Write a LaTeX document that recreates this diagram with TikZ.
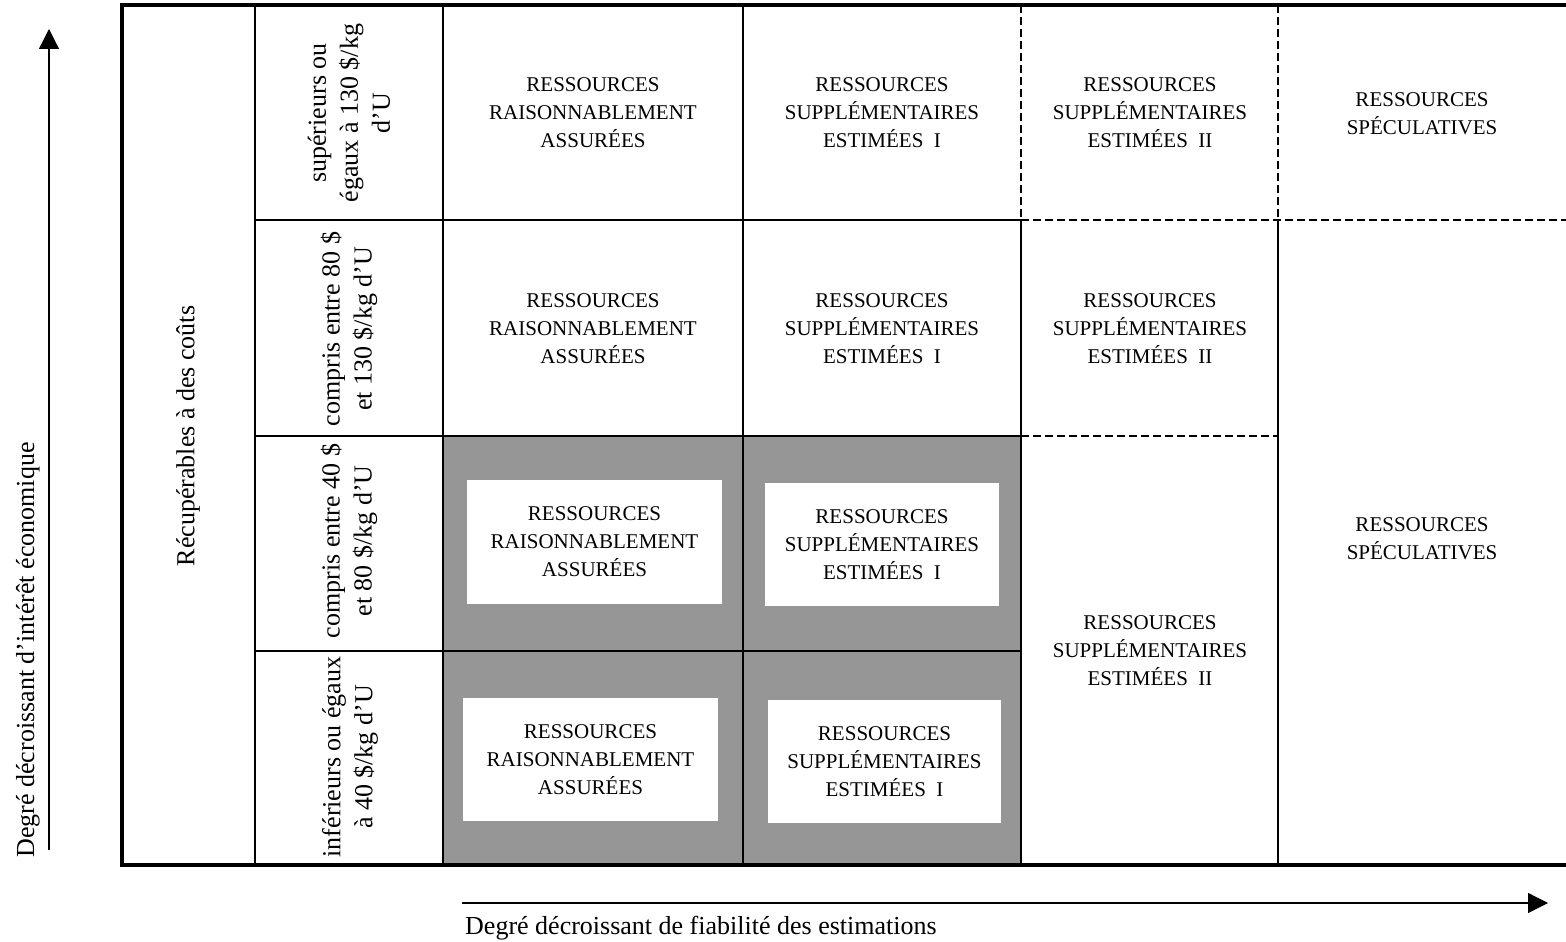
\documentclass[tikz,border=0pt]{standalone}
\usepackage{fontspec}
\setmainfont{Liberation Serif}
\usetikzlibrary{arrows.meta}
\definecolor{cellgrey}{RGB}{150,150,150}
\begin{document}
\begin{tikzpicture}[x=1pt,y=-1pt,
  cell/.style={align=center,font=\fontsize{21}{28}\selectfont,inner sep=0pt},
  hdr/.style={align=center,font=\fontsize{26}{32}\selectfont,inner sep=0pt,rotate=90},
  gridline/.style={line width=2.6pt},
  outerline/.style={line width=3.2pt},
  dashline/.style={line width=2.6pt,dash pattern=on 8pt off 4pt},
  wbox/.style={fill=white,draw=none,align=center,font=\fontsize{21}{28}\selectfont,inner sep=0pt},
  axisarrow/.style={line width=1.3pt,-{Triangle[length=20pt,width=20pt]}},
  lbl/.style={font=\fontsize{26}{32}\selectfont,inner sep=0pt}]

\useasboundingbox (0,0) rectangle (1566,942);

% grey cells
\fill[cellgrey] (443,436) rectangle (1021,865);

% white boxes in grey cells
\node[wbox,minimum width=255pt,minimum height=124pt] (b31) at (594.5,542) {RESSOURCES\\RAISONNABLEMENT\\ASSURÉES};
\node[wbox,minimum width=234pt,minimum height=123pt] (b32) at (882,544.5) {RESSOURCES\\SUPPLÉMENTAIRES\\ESTIMÉES\ \ I};
\node[wbox,minimum width=255pt,minimum height=123pt] (b41) at (590.5,759.5) {RESSOURCES\\RAISONNABLEMENT\\ASSURÉES};
\node[wbox,minimum width=233pt,minimum height=123pt] (b42) at (884.5,761.5) {RESSOURCES\\SUPPLÉMENTAIRES\\ESTIMÉES\ \ I};

% horizontal lines
\draw[gridline] (255,220) -- (1021,220);
\draw[dashline] (1021,220) -- (1566,220);
\draw[gridline] (255,436) -- (1021,436);
\draw[dashline] (1021,436) -- (1278,436);
\draw[gridline] (255,651) -- (1021,651);

% vertical lines
\draw[gridline] (255,5) -- (255,865);
\draw[gridline] (443,5) -- (443,865);
\draw[gridline] (743,5) -- (743,865);
\draw[dashline] (1021,5) -- (1021,220);
\draw[gridline] (1021,220) -- (1021,865);
\draw[dashline] (1278,5) -- (1278,220);
\draw[gridline] (1278,220) -- (1278,865);

% outer frame
\draw[outerline] (1566,5) -- (122,5) -- (122,865) -- (1566,865);

% row 1
\node[cell] (c11) at (593,113) {RESSOURCES\\RAISONNABLEMENT\\ASSURÉES};
\node[cell] (c12) at (882,113) {RESSOURCES\\SUPPLÉMENTAIRES\\ESTIMÉES\ \ I};
\node[cell] (c13) at (1150,113) {RESSOURCES\\SUPPLÉMENTAIRES\\ESTIMÉES\ \ II};
\node[cell] (c14) at (1422,114) {RESSOURCES\\SPÉCULATIVES};

% row 2
\node[cell] (c21) at (593,329) {RESSOURCES\\RAISONNABLEMENT\\ASSURÉES};
\node[cell] (c22) at (882,329) {RESSOURCES\\SUPPLÉMENTAIRES\\ESTIMÉES\ \ I};
\node[cell] (c23) at (1150,329) {RESSOURCES\\SUPPLÉMENTAIRES\\ESTIMÉES\ \ II};

% rows 3-4 merged
\node[cell] (c33) at (1150,651) {RESSOURCES\\SUPPLÉMENTAIRES\\ESTIMÉES\ \ II};
\node[cell] (c24) at (1422,539) {RESSOURCES\\SPÉCULATIVES};

% row headers
\node[hdr] (h1) at (349,113) {supérieurs ou\\égaux à 130 \$/kg\\d'U};
\node[hdr] (h2) at (349,329) {compris entre 80 \$\\et 130 \$/kg d'U};
\node[hdr] (h3) at (349,541) {compris entre 40 \$\\et 80 \$/kg d'U};
\node[hdr] (h4) at (350,757) {inférieurs ou égaux\\à 40 \$/kg d'U};
\node[hdr] (rec) at (188,436) {Récupérables à des coûts};

% axes
\coordinate (vs) at (49,850);
\coordinate (ve) at (49,29);
\draw[axisarrow] (vs) -- (ve);
\node[lbl,rotate=90] (vl) at (28,650) {Degré décroissant d'intérêt économique};

\coordinate (hs) at (462,903);
\coordinate (he) at (1548,903);
\draw[axisarrow] (hs) -- (he);
\node[lbl,anchor=base west] (hl) at (465,934) {Degré décroissant de fiabilité des estimations};
\end{tikzpicture}
\end{document}
